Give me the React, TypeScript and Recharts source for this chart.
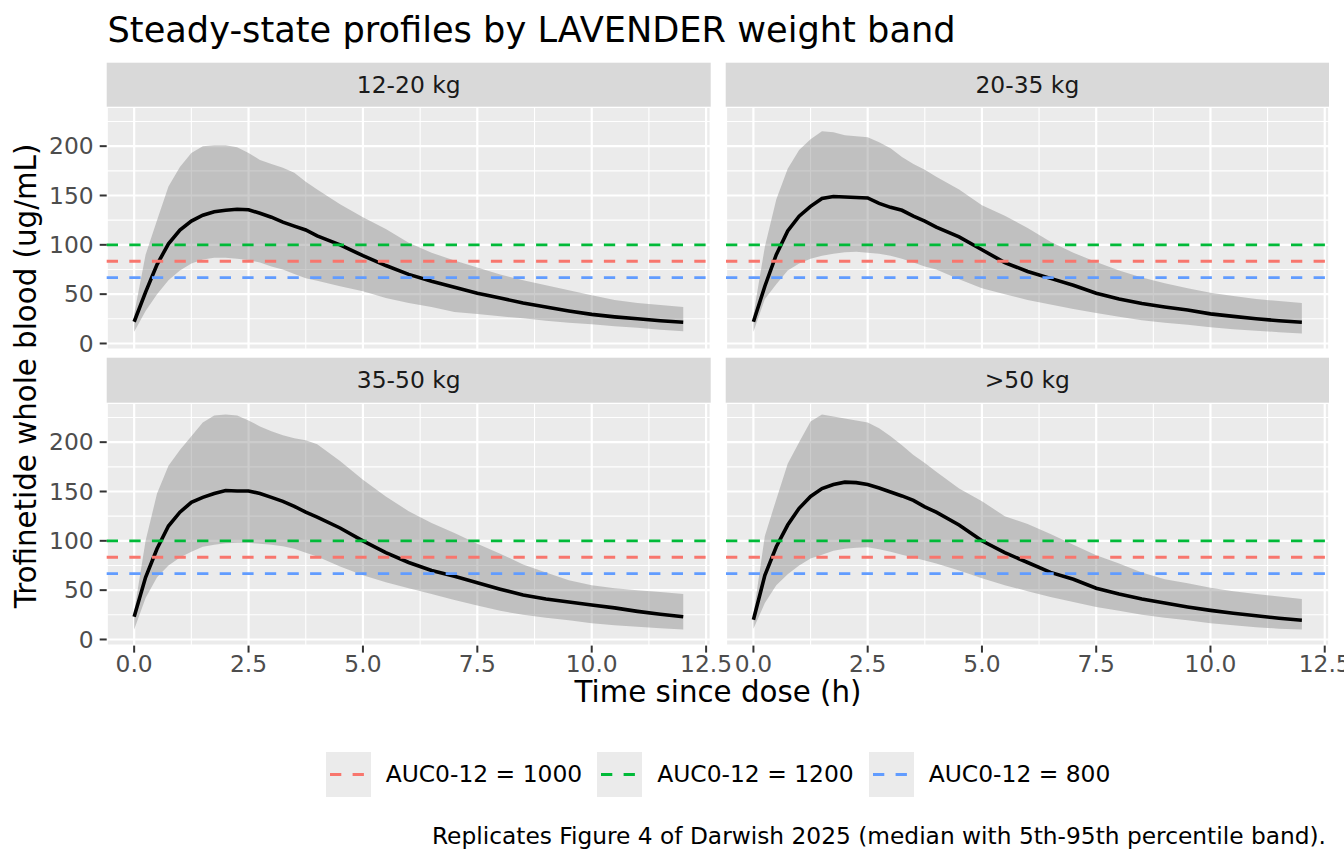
import React from 'react';
import {
  ComposedChart,
  Area,
  Line,
  XAxis,
  YAxis,
  CartesianGrid,
  ReferenceLine,
} from 'recharts';

// time since dose (h)
const TIME = [0, 0.25, 0.5, 0.75, 1, 1.25, 1.5, 1.75, 2, 2.25, 2.5, 2.75, 3, 3.25, 3.5, 3.75, 4, 4.5, 5, 5.5, 6, 6.5, 7, 7.5, 8, 8.5, 9, 9.5, 10, 10.5, 11, 11.5, 12];

const WEIGHT_BANDS = ['12-20 kg', '20-35 kg', '35-50 kg', '>50 kg'];

// 5th percentile / median / 95th percentile, ug/mL
const P05_12_20 = [12, 33, 50, 64, 74, 81, 85, 87, 87, 86, 84.5, 82, 78, 75, 70.5, 66, 63.5, 58, 53, 46, 41, 37, 32, 30, 27.5, 25.5, 23, 21, 19.5, 17.5, 16, 14, 12.5];
const MED_12_20 = [22, 52, 80, 101, 115, 124, 130, 133.5, 135, 136, 135.5, 132, 128, 123, 119, 115, 109, 100, 89, 79, 70, 63, 57, 51, 46, 41, 37, 33, 29.5, 27, 25, 23, 21.5];
const P95_12_20 = [30, 90, 125, 159, 179, 193, 200, 201, 201, 199, 193, 186, 182, 178, 173, 164, 156, 141, 128, 116, 102, 92, 84, 77, 70, 64, 59, 54, 49, 44, 41, 39, 37];

const P05_20_35 = [12, 45, 60, 74, 81, 86, 89, 91, 92.5, 93, 92, 91, 89, 86, 82, 78, 75, 65, 56, 50, 44, 39.5, 35, 31, 27, 23.5, 21, 19, 16.5, 14.5, 13, 11.5, 10];
const MED_20_35 = [22, 58, 90, 114, 129, 139, 147, 149, 148.5, 148, 147.5, 142, 138, 135, 129, 124, 118, 108, 95, 82, 73, 66, 59, 51, 45, 40.5, 37, 34, 30, 27.5, 25, 23, 21.5];
const P95_20_35 = [29, 98, 146, 177, 196, 207, 215, 214, 211, 210, 209, 204, 198, 189, 182, 176, 169, 156, 140, 129.5, 117, 103, 92, 82.5, 74, 67, 61, 56, 51.5, 48, 45, 43, 41];

const P05_35_50 = [10, 42, 63, 75, 83, 89, 94, 96, 97.5, 98, 98, 97, 96, 94.5, 92, 88, 84, 74, 65, 58, 52, 46, 40, 34.5, 29, 25, 22, 19.5, 16.5, 14.5, 13, 11.5, 10];
const MED_35_50 = [23, 63, 92, 115, 129, 139, 144, 148, 151, 150.5, 150.5, 148, 144, 140, 135, 129, 124, 113, 100, 88, 78, 70, 64, 57.5, 51, 45, 41, 38, 35, 32, 28.5, 25.5, 23];
const P95_35_50 = [28, 100, 148, 176, 192, 206, 220, 227, 228, 227, 222, 216, 211, 207, 204, 202, 198, 181, 162, 145, 130, 118, 108, 97, 87, 76, 68, 60, 55, 52, 50, 48, 46];

const P05_50 = [11, 37, 55, 66, 75, 82, 86, 90, 92, 93, 93.5, 91.5, 89, 86, 83, 80, 77, 70, 62, 55, 49, 43, 38, 33, 29, 25, 22, 19.5, 16.5, 14.5, 12.5, 11, 10];
const MED_50 = [20, 65, 94, 116, 133, 145, 153, 157, 159.5, 159, 157, 153.5, 149.5, 145.5, 141, 134.5, 129, 116, 100, 88, 78, 68, 61, 52, 46, 41, 37, 33, 29.5, 26.5, 24, 21.5, 19.5];
const P95_50 = [25, 105, 142, 178, 200, 221, 228, 226, 224, 222, 220, 214, 206, 197, 187, 179, 170, 153, 140, 125, 117, 107, 96, 85.5, 77, 68, 61, 57, 52.5, 49, 46, 43.5, 41];

// concentration targets = AUC0-12 / 12
const TARGET_LABELS = ['AUC0-12 = 1000', 'AUC0-12 = 1200', 'AUC0-12 = 800'];
const TARGET_CONC = [83.33, 100, 66.67];
const TARGET_COLORS = ['#F8766D', '#00BA38', '#619CFF'];

const X_TICKS = [0, 2.5, 5, 7.5, 10, 12.5];
const X_MINOR = [1.25, 3.75, 6.25, 8.75, 11.25];
const Y_TICKS = [0, 50, 100, 150, 200];
const Y_MINOR = [25, 75, 125, 175, 225];

const X_DOMAIN: [number, number] = [-0.6, 12.6];
const Y_DOMAIN: [number, number] = [-6.2, 239.7];

const FONT = '"DejaVu Sans", sans-serif';
const DASH = '11.3 11.3';

const PANEL_W_L = 604;
const PANEL_W_R = 603.3;
const PANEL_H = 242.6;
const Y_AXIS_W = 106.7;
const X_AXIS_H = 45;
const PAD = 14; // room so edge tick labels are not clipped

interface PanelProps {
  lo: number[];
  med: number[];
  hi: number[];
  left: number;
  top: number;
  showX: boolean;
  showY: boolean;
  panelWidth: number;
}

function Panel({ lo, med, hi, left, top, showX, showY, panelWidth }: PanelProps) {
  const data = TIME.map((t, i) => ({ t, band: [lo[i], hi[i]], med: med[i] }));
  const padRight = showX ? 30 : 0;
  const padBottom = showX ? 0 : PAD;
  const width = panelWidth + (showY ? Y_AXIS_W : 0) + padRight;
  const height = PANEL_H + (showX ? X_AXIS_H : 0) + padBottom;
  const tickStyle = { fill: '#4D4D4D', fontSize: 23.4, fontFamily: FONT };
  const tickLine = { stroke: '#333333', strokeWidth: 2 };

  return (
    <div style={{ position: 'absolute', left, top }}>
      <ComposedChart
        width={width}
        height={height}
        data={data}
        margin={{ top: 0, right: padRight, bottom: padBottom, left: 0 }}
      >
        <XAxis
          dataKey="t"
          type="number"
          domain={X_DOMAIN}
          allowDataOverflow
          ticks={X_TICKS}
          interval={0}
          hide={!showX}
          height={X_AXIS_H}
          axisLine={false}
          tickLine={tickLine}
          tickSize={7}
          tickMargin={3}
          tick={tickStyle}
          tickFormatter={(v: number) => v.toFixed(1)}
        />
        <XAxis xAxisId="minor" dataKey="t" type="number" domain={X_DOMAIN} allowDataOverflow ticks={X_MINOR} hide />
        <YAxis
          type="number"
          domain={Y_DOMAIN}
          allowDataOverflow
          ticks={Y_TICKS}
          interval={0}
          hide={!showY}
          width={Y_AXIS_W}
          axisLine={false}
          tickLine={tickLine}
          tickSize={7}
          tickMargin={6}
          tick={tickStyle}
        />
        <YAxis yAxisId="minor" type="number" domain={Y_DOMAIN} allowDataOverflow ticks={Y_MINOR} hide />
        <CartesianGrid xAxisId="minor" yAxisId="minor" fill="#EBEBEB" stroke="#FFFFFF" strokeWidth={1.1} />
        <CartesianGrid stroke="#FFFFFF" strokeWidth={2.2} />
        <Area
          dataKey="band"
          type="linear"
          stroke="none"
          fill="#7F7F7F"
          fillOpacity={0.4}
          isAnimationActive={false}
        />
        <Line
          dataKey="med"
          type="linear"
          stroke="#000000"
          strokeWidth={3.6}
          dot={false}
          activeDot={false}
          isAnimationActive={false}
        />
        {TARGET_CONC.map((c, i) => (
          <ReferenceLine
            key={TARGET_LABELS[i]}
            y={c}
            stroke={TARGET_COLORS[i]}
            strokeWidth={2.8}
            strokeDasharray={DASH}
          />
        ))}
      </ComposedChart>
    </div>
  );
}

export default function App() {
  const colL = 0;
  const colR = 725.7;
  const rowT = 106.7;
  const rowB = 402.7;
  const stripH = 44;

  const strips = [
    { x: Y_AXIS_W, y: rowT - stripH, w: PANEL_W_L, h: stripH },
    { x: colR, y: rowT - stripH, w: PANEL_W_R, h: stripH },
    { x: Y_AXIS_W, y: rowB - 45, w: PANEL_W_L, h: 45 },
    { x: colR, y: rowB - 45, w: PANEL_W_R, h: 45 },
  ];

  return (
    <div style={{ position: 'relative', width: 1344, height: 864, fontFamily: FONT, overflow: 'hidden' }}>
      <style>{'body{margin:0}'}</style>
      <svg width={1344} height={864} style={{ position: 'absolute', left: 0, top: 0 }}>
        <text x={107.5} y={41.5} fontSize={35.2} fill="#000" fontFamily={FONT}>
          Steady-state profiles by LAVENDER weight band
        </text>
        {strips.map((s, i) => (
          <g key={WEIGHT_BANDS[i]}>
            <rect x={s.x} y={s.y} width={s.w} height={s.h} fill="#D9D9D9" />
            <text
              x={s.x + s.w / 2}
              y={s.y + s.h / 2 + 8.2}
              textAnchor="middle"
              fontSize={23.4}
              fill="#1A1A1A"
              fontFamily={FONT}
            >
              {WEIGHT_BANDS[i]}
            </text>
          </g>
        ))}
        <text x={718} y={702} textAnchor="middle" fontSize={29.3} fill="#000" fontFamily={FONT}>
          Time since dose (h)
        </text>
        <text
          transform="translate(35.5,376) rotate(-90)"
          textAnchor="middle"
          fontSize={29.3}
          fill="#000"
          fontFamily={FONT}
        >
          Trofinetide whole blood (ug/mL)
        </text>
        <text x={1326} y={844} textAnchor="end" fontSize={23.3} fill="#000" fontFamily={FONT}>
          Replicates Figure 4 of Darwish 2025 (median with 5th-95th percentile band).
        </text>
      </svg>

      <Panel lo={P05_12_20} med={MED_12_20} hi={P95_12_20} left={colL} top={rowT} showX={false} showY panelWidth={PANEL_W_L} />
      <Panel lo={P05_20_35} med={MED_20_35} hi={P95_20_35} left={colR} top={rowT} showX={false} showY={false} panelWidth={PANEL_W_R} />
      <Panel lo={P05_35_50} med={MED_35_50} hi={P95_35_50} left={colL} top={rowB} showX showY panelWidth={PANEL_W_L} />
      <Panel lo={P05_50} med={MED_50} hi={P95_50} left={colR} top={rowB} showX showY={false} panelWidth={PANEL_W_R} />

      <div
        style={{
          position: 'absolute',
          left: 318,
          top: 752,
          width: 800,
          display: 'flex',
          justifyContent: 'center',
          alignItems: 'center',
          gap: 15,
        }}
      >
        {TARGET_LABELS.map((lab, i) => (
          <div key={lab} style={{ display: 'flex', alignItems: 'center', gap: 15 }}>
            <svg width={45} height={45} style={{ display: 'block' }}>
              <rect width={45} height={45} fill="#EBEBEB" />
              <line x1={4} x2={41} y1={22.5} y2={22.5} stroke={TARGET_COLORS[i]} strokeWidth={2.8} strokeDasharray={DASH} />
            </svg>
            <span style={{ fontSize: 23.4, lineHeight: 1, color: '#000', whiteSpace: 'nowrap' }}>{lab}</span>
          </div>
        ))}
      </div>
    </div>
  );
}
